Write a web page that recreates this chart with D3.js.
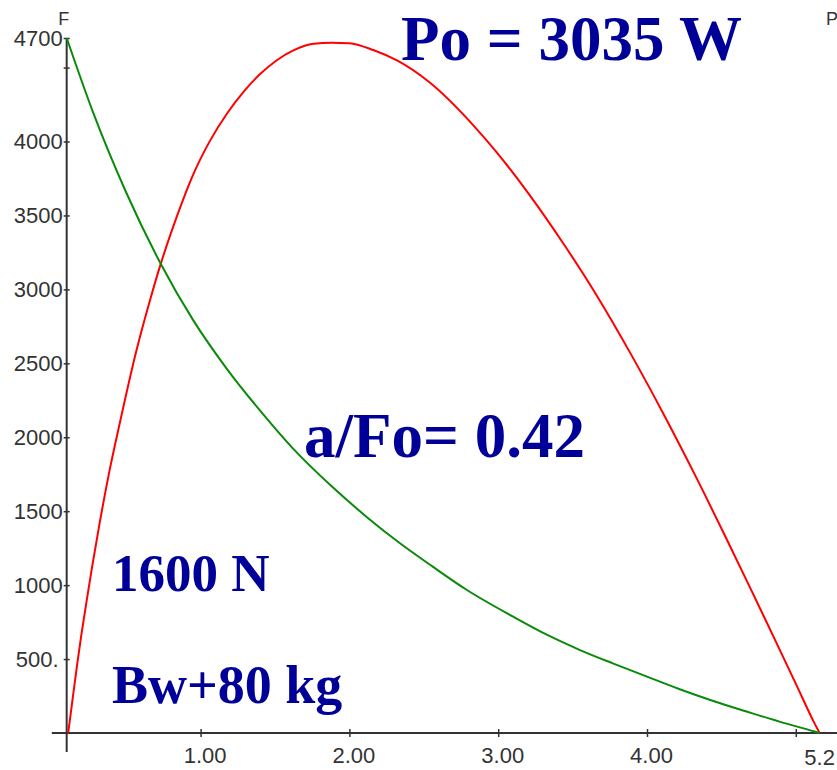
<!DOCTYPE html>
<html><head><meta charset="utf-8">
<script src="https://cdn.jsdelivr.net/npm/d3@7"></script>
<style>body{margin:0;background:#fff}svg{display:block;background:#fff}</style>
</head><body>
<svg id="c" width="837" height="770"></svg>
<script>
// Force-velocity (green, left axis F in N)
const forceV = [0.10, 0.28, 0.50, 0.73, 0.95, 1.18, 1.40, 1.62, 1.89, 2.12, 2.34, 2.56, 2.79, 3.10, 3.33, 3.55, 3.77, 4.00, 4.22, 4.45, 4.67, 4.89, 5.12, 5.16];
const forceN = [4700, 4190, 3655, 3177, 2792, 2458, 2180, 1925, 1660, 1458, 1283, 1125, 967, 787, 663, 561, 471, 381, 296, 215, 145, 77, 12, 0];
// Power-velocity (red, right axis P in W)
const powerV = [0.11, 0.13, 0.17, 0.20, 0.24, 0.27, 0.32, 0.39, 0.46, 0.57, 0.66, 0.73, 0.84, 0.95, 1.06, 1.18, 1.29, 1.40, 1.51, 1.62, 1.76, 1.88, 2.00, 2.16, 2.32, 2.54, 2.83, 2.99, 3.21, 3.44, 3.66, 3.89, 4.11, 4.33, 4.55, 4.67, 4.78, 4.89, 5.01, 5.12, 5.16];
const powerW = [0, 100, 300, 438, 605, 727, 917, 1160, 1372, 1685, 1903, 2058, 2270, 2455, 2600, 2726, 2820, 2897, 2957, 3000, 3030, 3035, 3033, 3003, 2957, 2860, 2674, 2553, 2366, 2150, 1926, 1668, 1404, 1125, 832, 670, 520, 369, 203, 50, 0];
const powerMax = 3035;
const forceMax = 4700;
const yTicks = [500, 1000, 1500, 2000, 2500, 3000, 3500, 4000, 4500, 4700];
const xTicks = [1, 2, 3, 4, 5];
const xEndLabel = "5.2";
const annotations = ["Po = 3035 W", "a/Fo= 0.42", "1600 N", "Bw+80 kg"];

const svg = d3.select("#c");
const W = 837;
const x = d3.scaleLinear().domain([0, 5]).range([51.8, 795.8]);
const yF = d3.scaleLinear().domain([0, forceMax]).range([733, 38]);
const yP = d3.scaleLinear().domain([0, powerMax]).range([733, 42.7]);

const axisX = x(forceV[0]);
const axisColor = "#333";
const tickFont = "'Liberation Sans', Arial, sans-serif";

// axis lines
svg.append("line").attr("x1", axisX).attr("x2", axisX)
  .attr("y1", yF(forceMax)).attr("y2", yF(0) + 19)
  .attr("stroke", axisColor).attr("stroke-width", 2);
svg.append("line").attr("x1", x(0)).attr("x2", W)
  .attr("y1", yF(0)).attr("y2", yF(0))
  .attr("stroke", axisColor).attr("stroke-width", 2);

// y axis ticks
const yAxis = d3.axisLeft(yF).tickValues(yTicks).tickSize(3).tickPadding(1)
  .tickFormat(d => d === 500 ? "500." : (d === 4500 ? "" : String(d)));
const gy = svg.append("g").attr("transform", `translate(${axisX},0)`).call(yAxis);
gy.select(".domain").remove();
gy.selectAll(".tick line").attr("x1", 3).attr("stroke", axisColor).attr("stroke-width", 1.5);
gy.selectAll(".tick text").attr("font-family", tickFont).attr("font-size", 22)
  .attr("fill", "#333").attr("dx", d => d === 500 ? -4 : 0);

// x axis ticks
const xAxis = d3.axisBottom(x).tickValues(xTicks).tickSize(4)
  .tickFormat(d => d < 5 ? d3.format(".2f")(d) : "");
const gx = svg.append("g").attr("transform", `translate(0,${yF(0)})`).call(xAxis);
gx.select(".domain").remove();
gx.selectAll(".tick line").attr("y1", -4).attr("stroke", axisColor).attr("stroke-width", 1.5);
gx.selectAll(".tick text").attr("font-family", tickFont).attr("font-size", 22)
  .attr("fill", "#333").attr("y", 30).attr("dy", 0).attr("dx", 4);
svg.append("text").attr("x", x(forceV[forceV.length - 1])).attr("y", yF(0) + 32)
  .attr("text-anchor", "middle").attr("font-family", tickFont).attr("font-size", 22)
  .attr("fill", "#333").text(xEndLabel);

// axis names
svg.append("text").attr("x", axisX - 3).attr("y", 25).attr("text-anchor", "middle")
  .attr("font-family", tickFont).attr("font-size", 18).attr("fill", "#333").text("F");
svg.append("text").attr("x", 826).attr("y", 25)
  .attr("font-family", tickFont).attr("font-size", 18).attr("fill", "#333").text("P");

// curves
const forceData = forceV.map((v, i) => [v, forceN[i]]);
const powerData = powerV.map((v, i) => [v, powerW[i]]);
svg.append("path").datum(powerData)
  .attr("d", d3.line().x(d => x(d[0])).y(d => yP(d[1])).curve(d3.curveMonotoneX))
  .attr("fill", "none").attr("stroke", "#ff0000").attr("stroke-width", 2);
svg.append("path").datum(forceData)
  .attr("d", d3.line().x(d => x(d[0])).y(d => yF(d[1])).curve(d3.curveMonotoneX))
  .attr("fill", "none").attr("stroke", "#0a8a0a").attr("stroke-width", 2);

// annotations
const annPos = [[401, 60, 63], [304, 457, 63], [112, 591, 53], [112, 703, 54]];
const serif = "'Liberation Serif', 'Times New Roman', serif";
annotations.forEach((t, i) => {
  svg.append("text").attr("x", annPos[i][0]).attr("y", annPos[i][1])
    .attr("font-family", serif).attr("font-weight", "bold").attr("font-size", annPos[i][2])
    .attr("fill", "#000099").text(t);
});
</script>
</body></html>
